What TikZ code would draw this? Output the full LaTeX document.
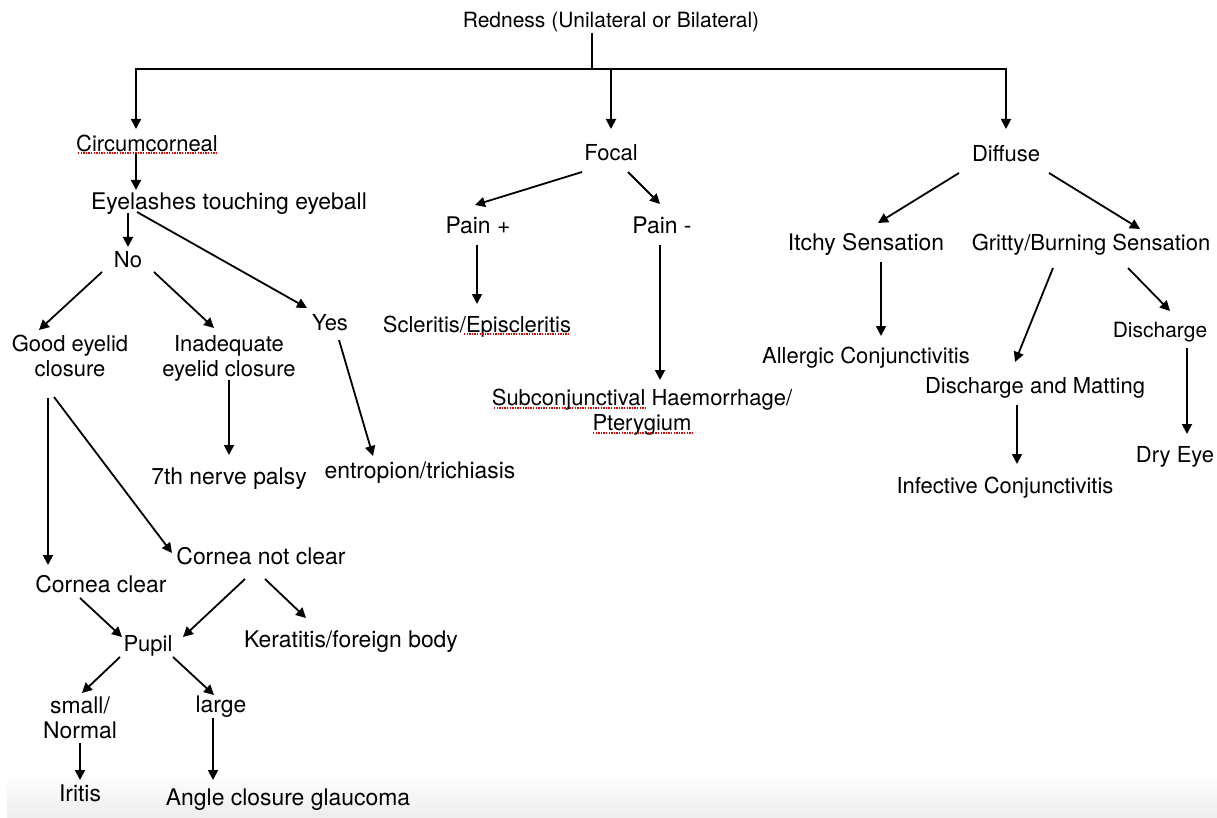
\documentclass[tikz,border=0pt]{standalone}
\usepackage{fontspec}
\setmainfont{TeX Gyre Heros}
\usetikzlibrary{arrows.meta}
\tikzset{%
  txt/.style = { inner sep=0pt, font=\fontsize{22}{25}\selectfont, text height=17pt, text depth=2pt },
  mtxt/.style = { inner sep=0pt, font=\fontsize{22}{25}\selectfont, align=center },
  wide/.style = { font=\fontsize{22.9}{25}\selectfont },
  slim/.style = { font=\fontsize{21}{25}\selectfont },
  arr/.style = { line width=1.8pt, -{Triangle[length=10pt,width=10pt]} },
  stem/.style = { line width=1.8pt },
  squig/.style = { red!90!black, line width=1.3pt, dash pattern=on 1.3pt off 1.3pt },
  fade/.style = { top color=white, bottom color=black!7, draw=none }
}

\begin{document}
\begin{tikzpicture}[x=1pt,y=-1pt]

  \useasboundingbox (0,0) rectangle (1217,818);
  \shade[fade] (7,772) rectangle (1217,818);

  % Top
  \node[txt,slim] (root) at (611,20) {Redness (Unilateral or Bilateral)};
  \coordinate (bus) at (592,69);

  \node[txt] (circ)    at (147,144) {Circumcorneal};
  \node[txt] (focal)   at (611,153) {Focal};
  \node[txt] (diffuse) at (1006,154) {Diffuse};

  \draw[stem] ([shift={(-19,13)}]root.center) -- (bus);
  \draw[arr] (bus) -| ([shift={(-11,-15)}]circ.center);
  \draw[arr] (bus) -| ([shift={(0,-24)}]focal.center);
  \draw[arr] (bus) -| ([shift={(0,-25)}]diffuse.center);

  % Circumcorneal branch
  \node[txt,wide] (eye)    at (229,202) {Eyelashes touching eyeball};
  \node[txt] (no)          at (128,260) {No};
  \node[txt] (yes)         at (330,323) {Yes};
  \node[mtxt] (good)       at (70,356) {Good eyelid\\closure};
  \node[mtxt] (inad)       at (229,358) {Inadequate\\eyelid closure};
  \node[txt,wide] (palsy)  at (229,477) {7th nerve palsy};
  \node[txt,wide] (entro)  at (420,471) {entropion/trichiasis};
  \node[txt,wide] (cnc)    at (261,557) {Cornea not clear};
  \node[txt,wide] (cc)     at (101,585) {Cornea clear};
  \node[txt] (pupil)       at (148,644) {Pupil};
  \node[txt,wide] (kera)   at (351,640) {Keratitis/foreign body};
  \node[mtxt,wide] (small) at (80,718) {small/\\Normal};
  \node[txt,wide] (large)  at (221,705) {large};
  \node[txt,wide] (iritis) at (80,794) {Iritis};
  \node[txt,wide] (angle)  at (288,798) {Angle closure glaucoma};

  \draw[arr] ([shift={(-11,8)}]circ.center) -- ([shift={(-93,-12)}]eye.center);
  \draw[arr] ([shift={(-101,11)}]eye.center) -- ([shift={(0,-13)}]no.center);
  \draw[arr] ([shift={(-92,10)}]eye.center) -- ([shift={(-23,-15)}]yes.center);
  \draw[arr] ([shift={(-26,12)}]no.center) -- ([shift={(-31,-26)}]good.center);
  \draw[arr] ([shift={(26,12)}]no.center) -- ([shift={(-15,-30)}]inad.center);
  \draw[arr] ([shift={(0,22)}]inad.center) -- ([shift={(0,-22)}]palsy.center);
  \draw[arr] ([shift={(9,17)}]yes.center) -- ([shift={(-47,-15)}]entro.center);
  \draw[arr] ([shift={(-22,42)}]good.center) -- ([shift={(-53,-20)}]cc.center);
  \draw[arr] ([shift={(-16,41)}]good.center) -- ([shift={(-89,-4)}]cnc.center);
  \draw[arr] ([shift={(-21,13)}]cc.center) -- ([shift={(-26,-7)}]pupil.center);
  \draw[arr] ([shift={(-16,22)}]cnc.center) -- ([shift={(35,-7)}]pupil.center);
  \draw[arr] ([shift={(4,22)}]cnc.center) -- ([shift={(-45,-22)}]kera.center);
  \draw[arr] ([shift={(-28,13)}]pupil.center) -- ([shift={(2,-25)}]small.center);
  \draw[arr] ([shift={(25,13)}]pupil.center) -- ([shift={(-7,-10)}]large.center);
  \draw[arr] ([shift={(0,25)}]small.center) -- ([shift={(0,-14)}]iritis.center);
  \draw[arr] ([shift={(-8,13)}]large.center) -- ([shift={(-75,-18)}]angle.center);

  % Focal branch
  \node[txt,wide] (painp) at (478,226) {Pain +};
  \node[txt,wide] (painm) at (662,226) {Pain -};
  \node[txt] (scler)      at (477,325) {Scleritis/Episcleritis};
  \node[mtxt] (subc)      at (642,412) {Subconjunctival Haemorrhage/\\Pterygium};

  \draw[arr] ([shift={(-29,19)}]focal.center) -- ([shift={(-3,-21)}]painp.center);
  \draw[arr] ([shift={(17,19)}]focal.center) -- ([shift={(-2,-22)}]painm.center);
  \draw[arr] ([shift={(-1,19)}]painp.center) -- ([shift={(0,-21)}]scler.center);
  \draw[arr] ([shift={(-2,19)}]painm.center) -- ([shift={(18,-32)}]subc.center);

  % Diffuse branch
  \node[txt,wide] (itchy) at (866,243) {Itchy Sensation};
  \node[txt] (gritty)     at (1091,243) {Gritty/Burning Sensation};
  \node[txt] (allerg)     at (866,356) {Allergic Conjunctivitis};
  \node[txt] (dmat)       at (1035,386) {Discharge and Matting};
  \node[txt,slim] (disch) at (1160,330) {Discharge};
  \node[txt] (dry)        at (1175,455) {Dry Eye};
  \node[txt] (infec)      at (1005,486) {Infective Conjunctivitis};

  \draw[arr] ([shift={(-47,19)}]diffuse.center) -- ([shift={(12,-20)}]itchy.center);
  \draw[arr] ([shift={(43,19)}]diffuse.center) -- ([shift={(49,-14)}]gritty.center);
  \draw[arr] ([shift={(15,19)}]itchy.center) -- ([shift={(15,-20)}]allerg.center);
  \draw[arr] ([shift={(-38,25)}]gritty.center) -- ([shift={(-20,-24)}]dmat.center);
  \draw[arr] ([shift={(37,25)}]gritty.center) -- ([shift={(10,-19)}]disch.center);
  \draw[arr] ([shift={(27,18)}]disch.center) -- ([shift={(12,-21)}]dry.center);
  \draw[arr] ([shift={(-18,19)}]dmat.center) -- ([shift={(12,-22)}]infec.center);

  % spelling marks
  \draw[squig] ([shift={(-69,9)}]circ.center) -- ([shift={(70,9)}]circ.center);
  \draw[squig] ([shift={(-13,9)}]scler.center) -- ([shift={(93,9)}]scler.center);
  \draw[squig] ([shift={(-148,-4)}]subc.center) -- ([shift={(4,-4)}]subc.center);
  \draw[squig] ([shift={(-49,21)}]subc.center) -- ([shift={(51,21)}]subc.center);

\end{tikzpicture}
\end{document}
